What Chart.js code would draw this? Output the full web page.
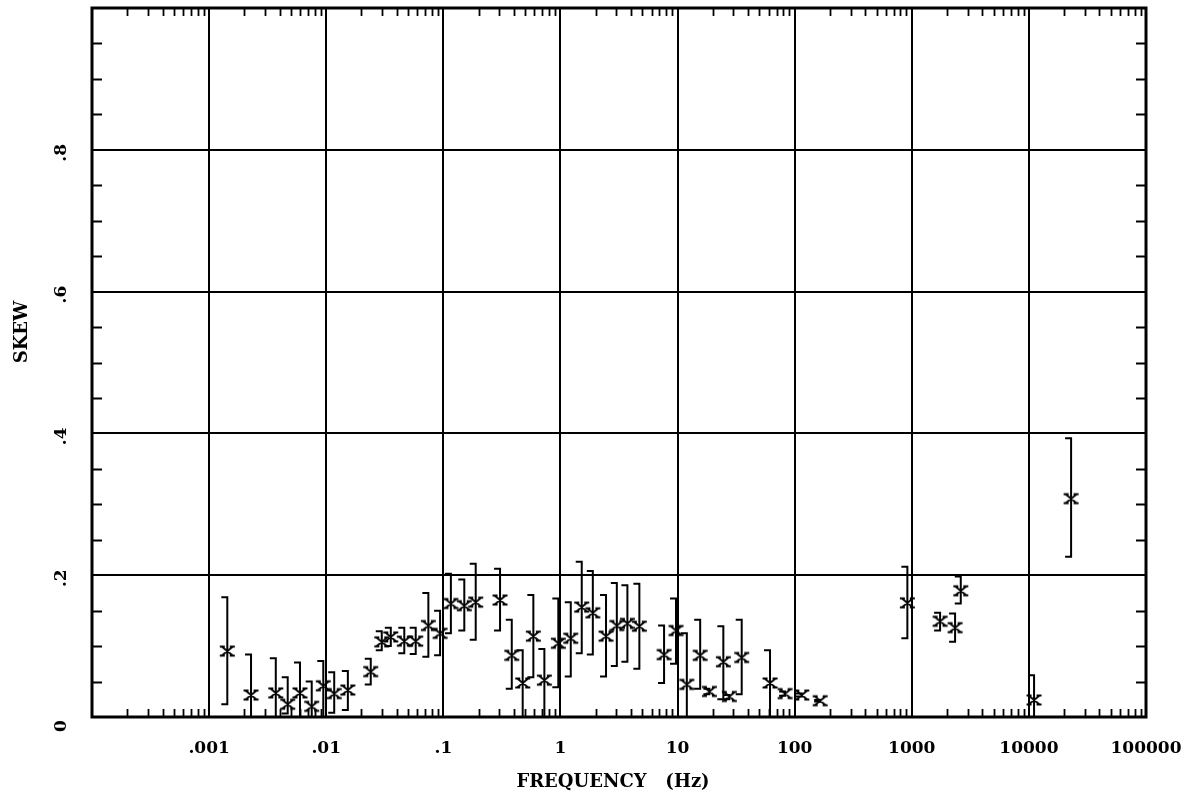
<!DOCTYPE html>
<html>
<head>
<meta charset="utf-8">
<title>Skew vs frequency</title>
<script src="https://cdn.jsdelivr.net/npm/chart.js@4.4.1/dist/chart.umd.min.js"></script>
<style>
  html, body { margin: 0; padding: 0; background: #fff; }
  canvas { display: block; }
</style>
</head>
<body>
<canvas id="skew-chart" width="1203" height="804"></canvas>
<script>
// ── Data ──
const freqHz = [
  0.00143, 0.00228, 0.00371, 0.00469, 0.00597, 0.00752, 0.00944, 0.0117, 0.0153, 0.0240,
  0.0298, 0.0356, 0.0464, 0.0581, 0.0745, 0.0938, 0.116, 0.151, 0.189, 0.305,
  0.384, 0.476, 0.587, 0.729, 0.959, 1.225, 1.52, 1.89, 2.45, 3.03,
  3.73, 4.72, 7.67, 9.70, 12.0, 15.6, 18.7, 24.6, 27.7, 35.3,
  61.6, 82.8, 115, 165, 917, 1745, 2343, 2620, 11070, 22930
];
const skew = [
  0.093, 0.031, 0.034, 0.018, 0.034, 0.015, 0.044, 0.033, 0.038, 0.064,
  0.106, 0.113, 0.107, 0.107, 0.129, 0.118, 0.160, 0.157, 0.162, 0.165,
  0.087, 0.048, 0.114, 0.052, 0.104, 0.111, 0.155, 0.147, 0.114, 0.129,
  0.132, 0.128, 0.088, 0.122, 0.046, 0.087, 0.036, 0.078, 0.029, 0.084,
  0.048, 0.033, 0.031, 0.023, 0.161, 0.135, 0.126, 0.178, 0.024, 0.308
];
const skewLow = [
  0.018, 0.0, 0.0, 0.005, 0.0, 0.0, 0.0, 0.006, 0.010, 0.046,
  0.094, 0.100, 0.090, 0.089, 0.085, 0.087, 0.118, 0.122, 0.109, 0.122,
  0.040, 0.0, 0.056, 0.0, 0.042, 0.057, 0.090, 0.088, 0.057, 0.072,
  0.078, 0.068, 0.048, 0.075, 0.0, 0.040, 0.032, 0.025, 0.025, 0.032,
  0.0, 0.030, 0.029, 0.022, 0.111, 0.122, 0.106, 0.160, 0.0, 0.226
];
const skewHigh = [
  0.169, 0.088, 0.083, 0.056, 0.077, 0.050, 0.079, 0.063, 0.065, 0.082,
  0.121, 0.126, 0.126, 0.126, 0.175, 0.150, 0.202, 0.194, 0.216, 0.209,
  0.137, 0.094, 0.172, 0.096, 0.167, 0.162, 0.219, 0.206, 0.172, 0.189,
  0.186, 0.188, 0.129, 0.167, 0.118, 0.137, 0.040, 0.128, 0.031, 0.137,
  0.094, 0.036, 0.033, 0.024, 0.212, 0.147, 0.146, 0.198, 0.059, 0.393
];

const decadeTicks  = [1e-4, 1e-3, 1e-2, 1e-1, 1, 10, 100, 1e3, 1e4, 1e5];
const decadeLabels = ["", ".001", ".01", ".1", "1", "10", "100", "1000", "10000", "100000"];
const minorMultiples = [2, 3, 4, 5, 6, 7, 8, 9];
const skewTicks  = [0, 0.2, 0.4, 0.6, 0.8, 1];
const skewLabels = ["0", ".2", ".4", ".6", ".8", ""];
const skewMinor  = [0.05, 0.1, 0.15, 0.25, 0.3, 0.35, 0.45, 0.5, 0.55, 0.65, 0.7, 0.75, 0.85, 0.9, 0.95];

const SERIF = "'DejaVu Serif', 'Liberation Serif', serif";
const INK   = "#000";

// x-shaped marker with little serifs top and bottom
function makeCross() {
  const c = document.createElement("canvas");
  c.width = 17; c.height = 14;
  const g = c.getContext("2d");
  g.strokeStyle = INK;
  g.lineWidth = 1.9;
  g.beginPath();
  g.moveTo(3, 2.5);   g.lineTo(14, 11.5);
  g.moveTo(14, 2.5);  g.lineTo(3, 11.5);
  g.moveTo(1, 2.5);   g.lineTo(6, 2.5);
  g.moveTo(11, 2.5);  g.lineTo(16, 2.5);
  g.moveTo(1, 11.5);  g.lineTo(6, 11.5);
  g.moveTo(11, 11.5); g.lineTo(16, 11.5);
  g.stroke();
  return c;
}

// ── Frame, inward minor ticks, y labels, axis titles ──
const frameTicks = {
  id: "frameTicks",
  beforeDatasetsDraw(chart) {
    const { ctx, chartArea: a, scales: { x, y } } = chart;
    ctx.save();
    ctx.strokeStyle = INK;
    ctx.lineWidth = 1.8;
    ctx.beginPath();
    decadeTicks.slice(0, -1).forEach(d => {
      minorMultiples.forEach(m => {
        const px = Math.round(x.getPixelForValue(m * d)) + 0.5;
        ctx.moveTo(px, a.bottom); ctx.lineTo(px, a.bottom - 8);
        ctx.moveTo(px, a.top);    ctx.lineTo(px, a.top + 8);
      });
    });
    skewMinor.forEach(v => {
      const py = Math.round(y.getPixelForValue(v)) + 0.5;
      ctx.moveTo(a.left, py);  ctx.lineTo(a.left + 10, py);
      ctx.moveTo(a.right, py); ctx.lineTo(a.right - 10, py);
    });
    ctx.stroke();

    ctx.lineWidth = 3;
    ctx.strokeRect(a.left, a.top, a.right - a.left, a.bottom - a.top);

    ctx.fillStyle = INK;
    ctx.textAlign = "center";
    ctx.textBaseline = "middle";
    ctx.font = `bold 17px ${SERIF}`;
    skewTicks.forEach((v, i) => {
      if (!skewLabels[i]) return;
      ctx.save();
      ctx.translate(62, y.getPixelForValue(v) + (i === 0 ? 9 : 3));
      ctx.rotate(-Math.PI / 2);
      ctx.fillText(skewLabels[i], 0, 0);
      ctx.restore();
    });

    ctx.font = `bold 18px ${SERIF}`;
    ctx.save();
    ctx.translate(22, 332);
    ctx.rotate(-Math.PI / 2);
    ctx.fillText("SKEW", 0, 0);
    ctx.restore();
    ctx.fillText("FREQUENCY   (Hz)", 613, 782);
    ctx.restore();
  }
};

// ── Bracket error bars, caps to the left ──
const errorBars = {
  id: "errorBars",
  afterDatasetsDraw(chart) {
    const { ctx, chartArea: a, scales: { x, y } } = chart;
    ctx.save();
    ctx.beginPath();
    ctx.rect(a.left, a.top, a.right - a.left, a.bottom - a.top);
    ctx.clip();
    ctx.strokeStyle = INK;
    ctx.lineWidth = 2;
    freqHz.forEach((f, i) => {
      const px  = x.getPixelForValue(f);
      const top = y.getPixelForValue(skewHigh[i]);
      const bot = y.getPixelForValue(skewLow[i]);
      ctx.beginPath();
      ctx.moveTo(px - 6, top);
      ctx.lineTo(px, top);
      ctx.lineTo(px, bot);
      ctx.lineTo(px - 6, bot);
      ctx.stroke();
    });
    ctx.restore();
  }
};

const crossImg = makeCross();

new Chart(document.getElementById("skew-chart").getContext("2d"), {
  type: "scatter",
  data: {
    datasets: [{
      data: freqHz.map((f, i) => ({ x: f, y: skew[i] })),
      pointStyle: crossImg,
      pointRadius: 7,
      showLine: false,
    }],
  },
  options: {
    responsive: false,
    animation: false,
    layout: { padding: { top: 8, right: 57, left: 0, bottom: 0 } },
    plugins: { legend: { display: false }, tooltip: { enabled: false } },
    scales: {
      x: {
        type: "logarithmic",
        min: 1e-4, max: 1e5,
        afterBuildTicks: s => { s.ticks = decadeTicks.map(v => ({ value: v })); },
        afterFit: s => { s.height = 87; },
        grid: { color: INK, lineWidth: 2, drawTicks: false },
        border: { display: false },
        ticks: {
          autoSkip: false, maxRotation: 0, minRotation: 0, padding: 21,
          color: INK, font: { family: SERIF, size: 17, weight: "bold" },
          callback: (v, i) => decadeLabels[i],
        },
      },
      y: {
        min: 0, max: 1,
        afterBuildTicks: s => { s.ticks = skewTicks.map(v => ({ value: v })); },
        afterFit: s => { s.width = 92; },
        grid: { color: INK, lineWidth: 2, drawTicks: false },
        border: { display: false },
        ticks: { display: false },
      },
    },
  },
  plugins: [frameTicks, errorBars],
});
</script>
</body>
</html>
